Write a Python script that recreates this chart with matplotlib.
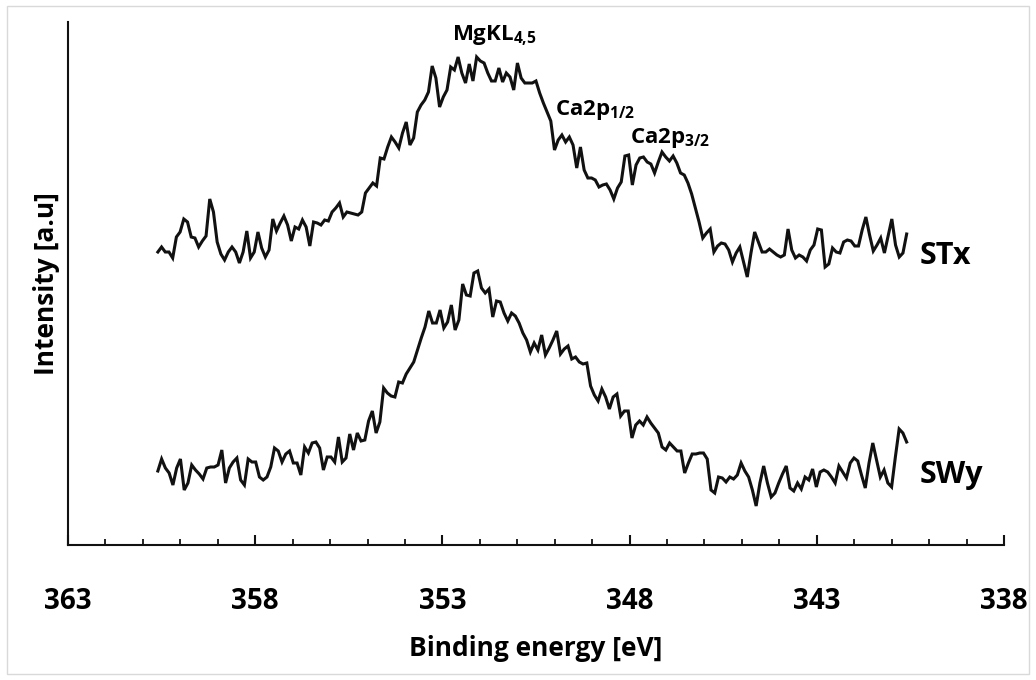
import numpy as np
import matplotlib
matplotlib.use("Agg")
import matplotlib.pyplot as plt
from matplotlib.patches import Rectangle

# XPS spectra, intensity in arbitrary units, energy grid from start to end
e_start = 360.6
e_end = 340.6

stx = [29.3, 29.8, 29.3, 29.3, 28.7, 30.8, 31.3, 32.6, 32.3, 30.8, 30.7, 29.8, 30.4, 30.9,
       34.6, 33.3, 30.3, 29.1, 28.5, 29.3, 29.8, 29.3, 28.2, 29.3, 31.4, 28.7, 29.3, 31.3,
       29.7, 28.8, 29.5, 32.6, 31.4, 32.2, 32.9, 32.0, 30.4, 31.8, 31.6, 32.5, 31.8, 29.9,
       32.3, 32.2, 32.0, 32.5, 32.4, 33.3, 33.7, 34.2, 32.8, 33.3, 33.2, 33.1, 33.0, 33.3,
       35.2, 35.7, 36.2, 35.9, 38.7, 38.6, 39.8, 40.8, 40.3,
       39.7, 41.2, 42.3, 40.0, 40.7, 43.3, 44.0, 44.5, 45.3, 47.9, 46.7, 43.8, 44.8, 45.5,
       47.8, 47.5, 48.8, 47.2, 46.2, 48.1, 46.4, 48.8, 48.4, 48.2, 47.2, 46.4, 46.4, 47.7,
       46.3, 47.2, 46.8, 45.5, 48.2, 46.7, 46.2, 46.2, 46.2, 46.4, 45.2, 44.2, 43.3, 42.4,
       39.5, 40.5, 41.0, 40.3, 40.8, 40.0, 37.7, 39.8, 37.5, 36.7, 36.7, 36.5, 35.8, 36.0,
       36.1, 35.5, 34.6, 35.7, 36.3, 38.9, 39.0, 36.0, 38.0, 38.7,
       38.8, 38.3, 38.1, 37.2, 38.3, 39.3, 38.8, 38.4, 38.9, 38.2, 37.2, 37.0, 36.2, 35.1,
       33.7, 32.3, 30.7, 31.2, 31.6, 29.3, 29.9, 30.2, 30.1, 29.5, 28.3, 29.2, 29.8, 28.3,
       26.8, 29.2, 31.3, 30.3, 29.3, 29.3, 29.6, 29.3, 29.0, 28.8, 29.0, 31.6, 29.5, 28.7,
       29.0, 28.8, 28.4, 29.5, 30.0, 31.6, 31.5, 27.8, 28.1, 29.7, 29.3, 29.2, 30.3, 30.5,
       30.4, 29.9, 29.9, 31.5, 32.8, 31.0, 29.4, 30.0, 30.7, 29.2, 30.9, 32.6, 30.0, 28.8,
       29.2, 31.1]

swy = [7.4, 8.6, 7.7, 7.2, 6.0, 7.7, 8.6, 5.5, 6.2, 8.0, 7.5, 7.1, 6.6, 7.7, 7.8, 7.8,
       8.0, 9.5, 6.2, 7.7, 8.3, 8.7, 6.5, 6.0, 8.6, 8.3, 8.3, 6.8, 6.5, 6.8, 7.8, 9.7, 9.4,
       8.3, 9.1, 9.4, 8.2, 8.2, 7.0, 9.8, 9.2, 10.2, 10.3, 9.7, 7.5, 8.8, 8.8, 8.3, 10.8,
       8.3, 8.7, 11.1, 9.5, 11.2, 10.4, 10.5, 12.4, 13.4, 11.2, 12.3, 15.7, 15.2, 14.9,
       14.8, 16.3,
       16.2, 17.1, 17.7, 18.3, 19.5, 20.7, 21.8, 23.4, 22.2, 22.2, 23.5, 21.7, 22.3, 24.0,
       21.5, 22.5, 26.1, 25.0, 24.9, 27.2, 27.4, 25.7, 25.2, 25.6, 22.8, 24.4, 24.3, 23.2,
       22.4, 23.2, 22.9, 22.2, 21.2, 20.5, 19.3, 20.2, 19.5, 21.0, 19.0, 19.7, 20.5, 21.4,
       19.1, 19.6, 19.9, 18.6, 18.8, 18.3, 18.1, 18.2, 15.9, 15.0, 14.4, 15.6, 14.8, 13.6,
       14.8, 15.1, 12.9, 13.4, 13.4, 10.7, 12.0, 12.4,
       12.0, 12.8, 12.2, 11.7, 11.2, 9.8, 9.5, 10.2, 9.8, 9.4, 9.4, 7.2, 8.2, 9.1, 9.1,
       9.2, 9.2, 8.6, 5.5, 5.2, 6.8, 6.7, 6.3, 6.8, 6.6, 7.0, 8.2, 7.4, 6.8, 5.5, 3.9,
       6.2, 7.9, 6.2, 4.8, 5.2, 6.2, 7.1, 7.9, 5.7, 5.4, 6.2, 5.6, 6.8, 6.5, 7.6, 5.8,
       7.3, 7.5, 7.3, 6.8, 6.2, 7.9, 7.3, 6.7, 8.2, 8.7, 8.4, 7.0, 5.7, 8.2, 10.2, 8.5,
       6.8, 7.5, 6.2, 5.8, 8.8, 11.6, 11.2, 10.3]

major_ticks = [363, 358, 353, 348, 343, 338]

W, H = 1036, 680
plt.rcParams['font.family'] = ['Open Sans', 'DejaVu Sans']
plt.rcParams['mathtext.fontset'] = 'custom'
plt.rcParams['mathtext.rm'] = 'Open Sans:bold'
plt.rcParams['mathtext.it'] = 'Open Sans:bold'
plt.rcParams['mathtext.bf'] = 'Open Sans:bold'

fig = plt.figure(figsize=(W / 100, H / 100), dpi=100)
ax = fig.add_axes([68 / W, (H - 545) / H, (1004 - 68) / W, (545 - 22) / H])

ink = '#111111'
e_stx = np.linspace(e_start, e_end, len(stx))
e_swy = np.linspace(e_start, e_end, len(swy))
ax.plot(e_stx, stx, color=ink, lw=2.2, solid_joinstyle='miter')
ax.plot(e_swy, swy, color=ink, lw=2.2, solid_joinstyle='miter')

ax.set_xlim(363, 338)
ax.set_ylim(0, 52.3)
for s in ['top', 'right']:
    ax.spines[s].set_visible(False)
for s in ['left', 'bottom']:
    ax.spines[s].set_linewidth(1.5)
    ax.spines[s].set_color(ink)

ax.set_yticks([])
ax.set_xticks(major_ticks)
ax.set_xticks(np.arange(338, 364, 1), minor=True)
ax.tick_params(axis='x', which='major', direction='in', length=7, width=1.5,
               color=ink, pad=30, labelsize=20)
ax.tick_params(axis='x', which='minor', direction='in', length=4.5, width=1.3, color=ink)
for lab in ax.get_xticklabels():
    lab.set_fontweight('bold')

ax.set_xlabel('Binding energy [eV]', fontsize=19, fontweight='bold', labelpad=14)
ax.set_ylabel('Intensity [a.u]', fontsize=19, fontweight='bold', labelpad=6)

def ftext(x, y, s, size, ha='left'):
    fig.text(x / W, 1 - y / H, s, fontsize=size, fontweight='bold', ha=ha, va='baseline')

ftext(494, 40, r'MgKL$_{4{,}5}$', 16, ha='center')
ftext(555, 115, r'Ca2p$_{1/2}$', 16)
ftext(630, 143, r'Ca2p$_{3/2}$', 16)
ftext(920, 264, 'STx', 22)
ftext(920, 483, 'SWy', 22)

fig.patches.append(Rectangle((7 / W, 6 / H), 1 - 14 / W, 1 - 12 / H, transform=fig.transFigure,
                             fill=False, edgecolor='#d9d9d9', lw=1))

fig.savefig('out.png', dpi=100)
